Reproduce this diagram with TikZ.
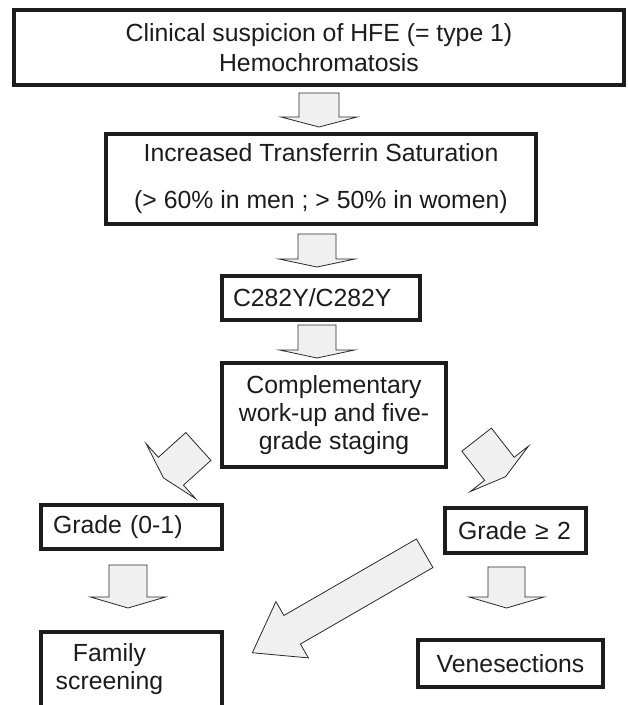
\documentclass[tikz,border=0pt]{standalone}
\usepackage{fontspec}
\setmainfont{Liberation Sans}
\usetikzlibrary{calc}
\definecolor{ink}{HTML}{1C1C1C}
\definecolor{arrowfill}{HTML}{F0F0F0}
\definecolor{arrowline}{HTML}{2A2A2A}
\tikzset{
  box/.style={draw=ink, line width=3.3pt, fill=white, text=ink, inner sep=0pt,
    font=\fontsize{24.8}{28}\selectfont, align=center},
  blk/.style={draw=arrowline, line width=0.8pt, fill=arrowfill, line join=miter}
}
% #1 centre, #2 rotation, #3 shaft length, #4 head length, #5 shaft half width, #6 head half width
\newcommand\blkarrow[6]{%
  \draw[blk, shift={#1}, rotate=#2]
    (-#5,{-(#3+#4)/2}) -- (-#5,{(#3-#4)/2}) -- (-#6,{(#3-#4)/2}) -- (0,{(#3+#4)/2})
    -- (#6,{(#3-#4)/2}) -- (#5,{(#3-#4)/2}) -- (#5,{-(#3+#4)/2}) -- cycle;}
\begin{document}
\begin{tikzpicture}[x=1pt,y=-1pt]
\clip (0,0) rectangle (628,705);
\fill[white] (0,0) rectangle (628,705);

\node[box, minimum width=610, minimum height=75] (b1) at (319,47.5)
  {Clinical suspicion of HFE (= type 1)\\[2pt]Hemochromatosis};
\node[box, minimum width=430, minimum height=90] (b2) at (321,179)
  {Increased Transferrin Saturation\\[19pt](> 60\% in men ; > 50\% in women)};
\node[box, minimum height=44, text width=176pt, inner xsep=11pt, align=left] (b3) at (321,298)
  {C282Y/C282Y};
\node[box, minimum width=224, minimum height=104] (b4) at (334,415)
  {Complementary\\work-up and five-\\grade staging};
\node[box, minimum height=44, text width=157pt, inner xsep=12pt, align=left] (b5) at (131.5,527)
  {Grade (0-1)};
\node[box, minimum height=45, text width=115pt, inner xsep=13pt, align=left] (b6) at (515.5,530.5)
  {Grade ≥ 2};
\node[box, minimum width=181, minimum height=76] (b7) at (131.5,670)
  {\begin{tabular}{@{}c@{}}Family\\screening\end{tabular}\hspace*{44pt}};
\node[box, minimum width=185, minimum height=47] (b8) at (510.5,663.5)
  {Venesections};

% block arrows
\blkarrow{($(b1.south)!0.5!(b2.north)+(-1,0.5)$)}{0}{24}{10}{20}{38}
\blkarrow{($(b2.south)!0.5!(b3.north)+(-4,0.5)$)}{0}{25}{8}{19}{38}
\blkarrow{($(b3.south)!0.5!(b4.north)+(-10.5,0)$)}{0}{25}{8}{19}{37.5}
\blkarrow{($(b4.west)!0.5!(b5.north)+(5,3)$)}{-48}{37}{10}{18.75}{37}
\blkarrow{($(b4.east)!0.5!(b6.north)+(9.5,-2.5)$)}{38}{37}{10}{18.75}{37}
\blkarrow{($(b5.south)!0.5!(b7.north)+(-3.5,-4)$)}{0}{32}{11}{19}{37.5}
\blkarrow{($(b6.south)!0.5!(b8.north)+(-6.5,-9)$)}{0}{30}{11}{18.5}{37.5}
\blkarrow{($(b6.south west)!0.5!(b7.north east)+(5,10.5)$)}{-60}{153}{46}{16.5}{32.5}
\end{tikzpicture}
\end{document}
